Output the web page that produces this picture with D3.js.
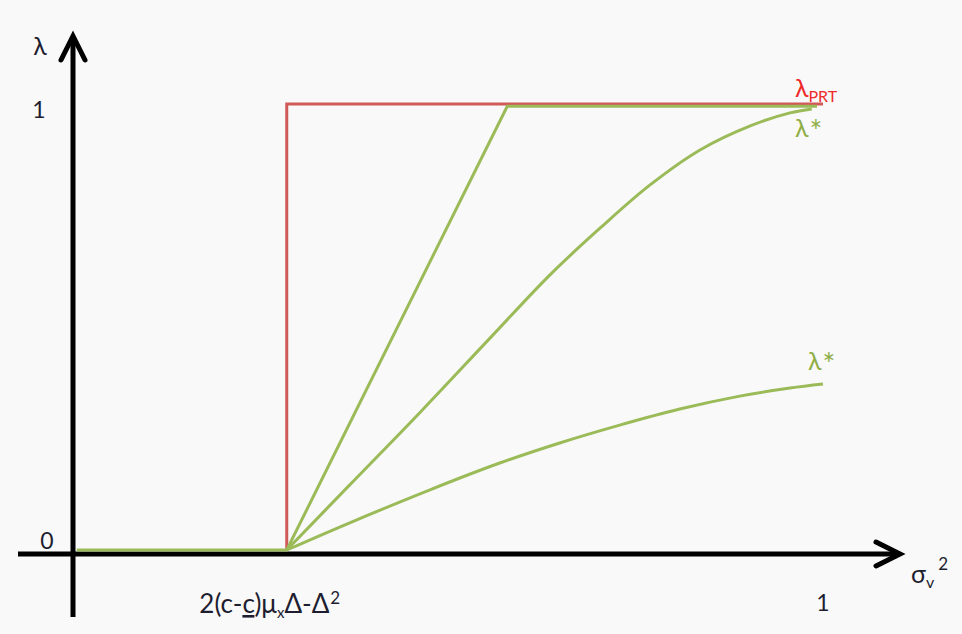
<!DOCTYPE html>
<html>
<head>
<meta charset="utf-8">
<script src="https://cdn.jsdelivr.net/npm/d3@7"></script>
<style>
  body { margin: 0; background: #f9f9f9; }
  text { font-family: Lato, "Open Sans", sans-serif; }
</style>
</head>
<body>
<svg id="chart" width="962" height="634"></svg>
<script>
// data (x = sigma_v^2, y = lambda)
var threshold = 0.285;
var prtX = [0.285, 0.285, 1.0];
var prtY = [0, 1, 1];
var steepX = [0.005, 0.285, 0.579, 0.992];
var steepY = [0, 0, 0.995, 0.995];
var midX = [0.285, 0.369, 0.463, 0.556, 0.636, 0.703, 0.769, 0.836, 0.903, 0.956, 0.985];
var midY = [0, 0.146, 0.309, 0.475, 0.617, 0.722, 0.818, 0.897, 0.951, 0.980, 0.989];
var lowX = [0.285, 0.369, 0.476, 0.569, 0.649, 0.729, 0.809, 0.889, 0.956, 1.0];
var lowY = [0, 0.061, 0.135, 0.195, 0.240, 0.280, 0.316, 0.345, 0.363, 0.372];

var svg = d3.select("#chart");

svg.append("rect").attr("width", 962).attr("height", 634).attr("fill", "#f9f9f9");

var x = d3.scaleLinear().domain([0, 1]).range([73, 823]);
var y = d3.scaleLinear().domain([0, 1]).range([550, 104]);

var zip = (xs, ys) => xs.map((v, i) => [v, ys[i]]);
var line = d3.line().x(d => x(d[0])).y(d => y(d[1]));
var curve = d3.line().x(d => x(d[0])).y(d => y(d[1])).curve(d3.curveCatmullRom.alpha(0.5));

// axes
var axisColor = "#000";
var x0 = x.invert(18), x1 = x.invert(900);
var y0 = y.invert(617), y1 = y.invert(36);

svg.append("line")
    .attr("x1", x(0)).attr("x2", x(0))
    .attr("y1", y(y0)).attr("y2", y(y1) + 2)
    .attr("stroke", axisColor).attr("stroke-width", 5);
svg.append("path")
    .attr("d", "M" + (x(0) - 12) + "," + (y(y1) + 24) + "L" + x(0) + "," + y(y1) + "L" + (x(0) + 12) + "," + (y(y1) + 24))
    .attr("fill", "none").attr("stroke", axisColor).attr("stroke-width", 5)
    .attr("stroke-linecap", "round");

svg.append("line")
    .attr("x1", x(x0)).attr("x2", x(x1) - 2)
    .attr("y1", y(0) + 4).attr("y2", y(0) + 4)
    .attr("stroke", axisColor).attr("stroke-width", 5);
svg.append("path")
    .attr("d", "M" + (x(x1) - 24) + "," + (y(0) + 4 - 12) + "L" + x(x1) + "," + (y(0) + 4) + "L" + (x(x1) - 24) + "," + (y(0) + 4 + 12))
    .attr("fill", "none").attr("stroke", axisColor).attr("stroke-width", 5)
    .attr("stroke-linecap", "round");

// lines
var red = "#d05a58", green = "#9bbb59";

svg.append("path").attr("d", line(zip(prtX, prtY)))
    .attr("fill", "none").attr("stroke", red).attr("stroke-width", 3);
svg.append("path").attr("d", line(zip(steepX, steepY)))
    .attr("fill", "none").attr("stroke", green).attr("stroke-width", 3);
svg.append("path").attr("d", curve(zip(midX, midY)))
    .attr("fill", "none").attr("stroke", green).attr("stroke-width", 3);
svg.append("path").attr("d", curve(zip(lowX, lowY)))
    .attr("fill", "none").attr("stroke", green).attr("stroke-width", 3);

// labels
var ink = "#1e1e30";
svg.append("text").attr("x", 40).attr("y", 55).attr("text-anchor", "middle")
    .attr("fill", ink).style("font-size", "25px").text("λ");
svg.append("text").attr("x", 39).attr("y", y(1) + 14).attr("text-anchor", "middle")
    .attr("fill", ink).style("font-size", "23px").text("1");
svg.append("text").attr("x", 47).attr("y", y(0) - 1).attr("text-anchor", "middle")
    .attr("fill", ink).style("font-size", "23px").text("0");
svg.append("text").attr("x", x(1)).attr("y", 611).attr("text-anchor", "middle")
    .attr("fill", ink).style("font-size", "23px").text("1");

var thr = svg.append("text").attr("x", x(threshold) - 17).attr("y", 613).attr("text-anchor", "middle")
    .attr("fill", ink).style("font-size", "26px");
thr.append("tspan").text("2(c-");
thr.append("tspan").attr("text-decoration", "underline").text("c");
thr.append("tspan").text(")μ");
thr.append("tspan").attr("dy", 5).style("font-size", "15px").text("x");
thr.append("tspan").attr("dy", -5).text("Δ-Δ");
thr.append("tspan").attr("dy", -9).attr("dx", 1).style("font-size", "17px").text("2");

var sig = svg.append("text").attr("x", 911).attr("y", 583)
    .attr("fill", ink).style("font-size", "25px");
sig.append("tspan").text("σ");
sig.append("tspan").attr("dy", 5).style("font-size", "16px").text("v");
sig.append("tspan").attr("dy", -18).attr("dx", 4).style("font-size", "17px").text("2");

var prt = svg.append("text").attr("x", 795).attr("y", 97)
    .attr("fill", "#ee2a2a").style("font-size", "25px");
prt.append("tspan").text("λ");
prt.append("tspan").attr("dy", 5).style("font-size", "16px").text("PRT");

var star1 = svg.append("text").attr("x", 795).attr("y", 137)
    .attr("fill", "#8fae45").style("font-size", "25px");
star1.append("tspan").text("λ");
star1.append("tspan").attr("dx", 1).attr("dy", 5).style("font-size", "30px").text("*");
var star2 = svg.append("text").attr("x", 808).attr("y", 370)
    .attr("fill", "#8fae45").style("font-size", "25px");
star2.append("tspan").text("λ");
star2.append("tspan").attr("dx", 1).attr("dy", 5).style("font-size", "30px").text("*");
</script>
</body>
</html>
